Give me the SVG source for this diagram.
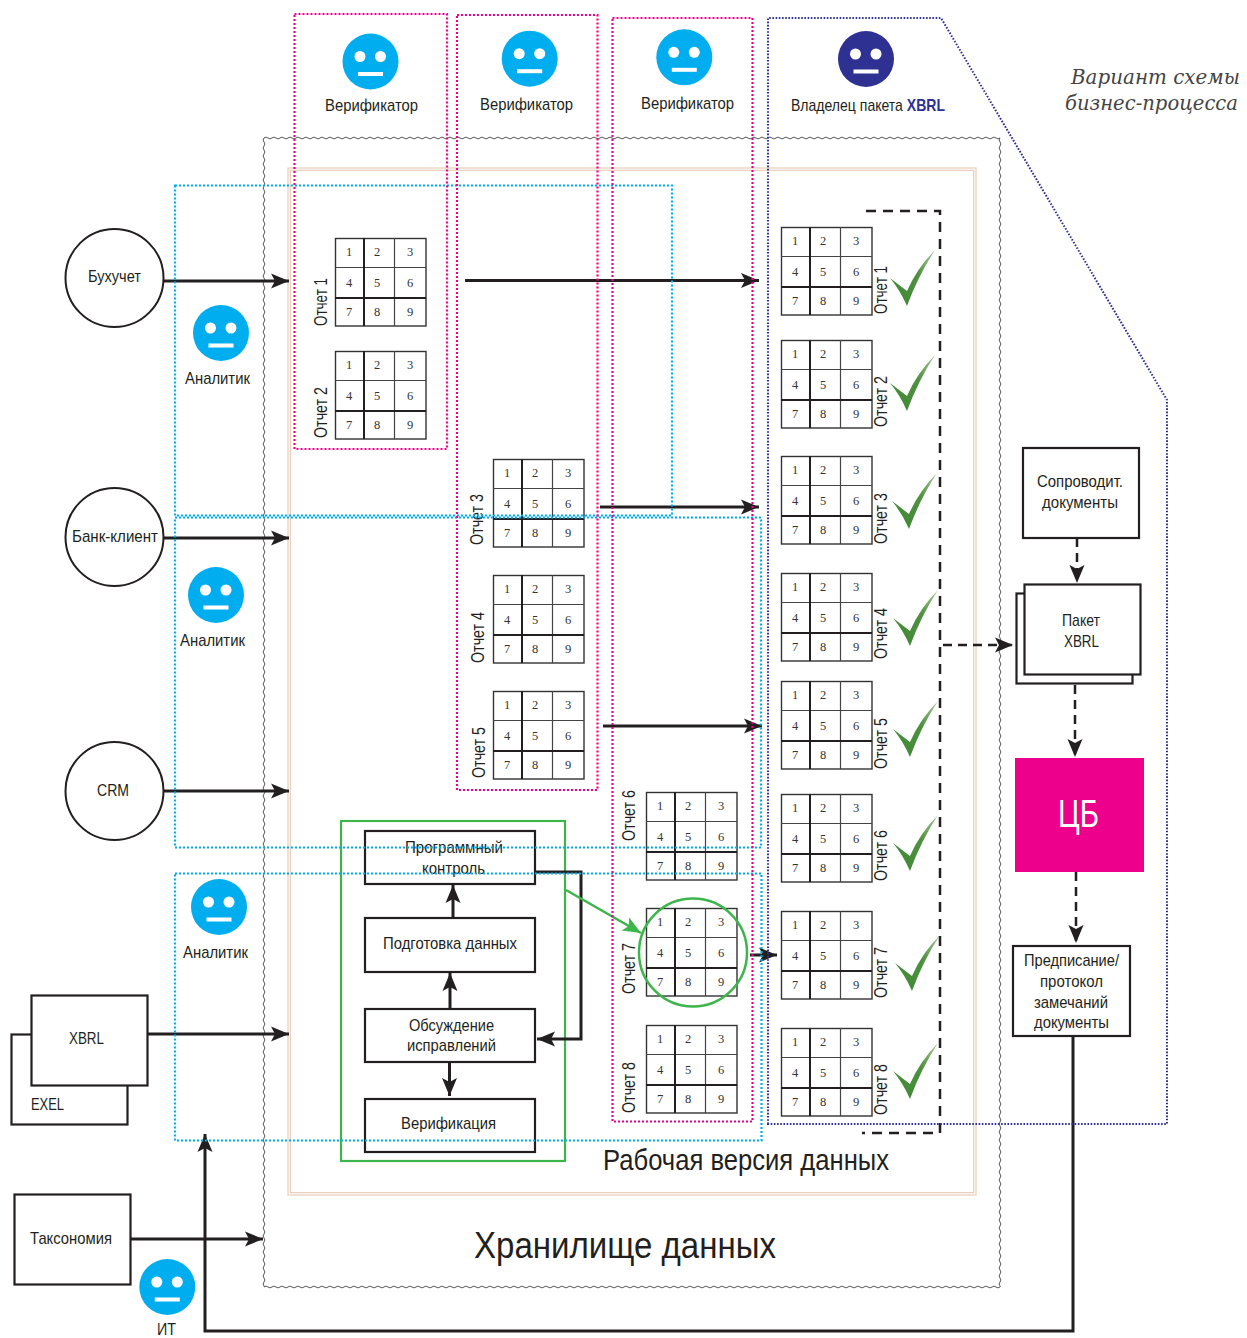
<svg xmlns="http://www.w3.org/2000/svg" width="1247" height="1338" viewBox="0 0 1247 1338">
<style>
text{fill:#231f20}
.t{font-family:"Liberation Sans Narrow","Liberation Sans",Arial,sans-serif;font-size:17px}
.r{font-family:"Liberation Sans Narrow","Liberation Sans",Arial,sans-serif;font-size:19px}
.n text{font-family:"Liberation Serif","Times New Roman",serif;font-size:12.5px;text-anchor:middle;fill:#333}
.box{fill:#fff;stroke:#231f20;stroke-width:2.2}
.ring{fill:#fff;stroke:#231f20;stroke-width:2}
.pink{fill:none;stroke:#ec008c;stroke-width:2.2;stroke-dasharray:2 2}
.cyan{fill:none;stroke:#00aeef;stroke-width:2.2;stroke-dasharray:2 2}
.navy{fill:none;stroke:#2e3192;stroke-width:2;stroke-dasharray:1.6 1.6}
.peach{fill:none;stroke:#e8cdb8;stroke-width:1.2}
.a{fill:none;stroke:#231f20;stroke-width:3;marker-end:url(#arrow)}
.d{fill:none;stroke:#231f20;stroke-width:2.5;stroke-dasharray:9 6;marker-end:url(#arrow)}
.chk{fill:url(#chkfill);filter:url(#soft)}
.face{fill:#00aeef}
.white{fill:#fff}
</style>
<defs>
<linearGradient id="chkfill" x1="0.2" y1="1" x2="1" y2="0"><stop offset="0" stop-color="#3f8a35"/><stop offset="0.55" stop-color="#4f9140"/><stop offset="1" stop-color="#a9c99c"/></linearGradient>
<marker id="arrow" markerUnits="userSpaceOnUse" markerWidth="22" markerHeight="18" refX="18" refY="9" orient="auto"><path d="M0,1.500 L18,9 L0,16.500 L4,9 Z" fill="#231f20"/></marker>
<marker id="arrowg" markerUnits="userSpaceOnUse" markerWidth="22" markerHeight="18" refX="18" refY="9" orient="auto"><path d="M0,1.500 L18,9 L0,16.500 L4,9 Z" fill="#3cb54a"/></marker>
<filter id="soft" x="-10%" y="-10%" width="120%" height="120%"><feGaussianBlur stdDeviation="0.6"/></filter>
<pattern id="waveH" width="8" height="4" patternUnits="userSpaceOnUse"><path d="M0,2 Q2,0.2 4,2 T8,2" fill="none" stroke="#555" stroke-width="1"/></pattern>
<pattern id="waveV" width="4" height="8" patternUnits="userSpaceOnUse"><path d="M2,0 Q0.2,2 2,4 T2,8" fill="none" stroke="#555" stroke-width="1"/></pattern>
<g id="grid">
<rect x="0.500" y="0.500" width="90.500" height="87.500" fill="#fff" stroke="#333" stroke-width="1.400"/>
<path d="M0,29.500H91M59.500,0V88" stroke="#444" stroke-width="1.200" fill="none"/>
<path d="M0,60H91M29,0V88" stroke="#231f20" stroke-width="2" fill="none"/>
</g>
<g id="smile"><circle r="28" class="face"/><circle cx="-10.500" cy="-5" r="5.500" class="white"/><circle cx="10" cy="-5" r="5.500" class="white"/><rect x="-12.500" y="10.500" width="25" height="4" class="white"/></g>
<path id="check" d="M0,28 L17,41 Q27,18 45,0 Q28,26 17,56 Q10,40 0,28 Z"/>
</defs>
<rect width="1247" height="1338" fill="#fff"/>

<g id="storage">
<rect transform="translate(264,136)" width="736" height="4" fill="url(#waveH)"/>
<rect transform="translate(264,1285)" width="736" height="4" fill="url(#waveH)"/>
<rect transform="translate(262,138)" width="4" height="1149" fill="url(#waveV)"/>
<rect transform="translate(998,138)" width="4" height="1149" fill="url(#waveV)"/>
<text class="t" x="474" y="1258" style="font-size:37px" textLength="302" lengthAdjust="spacingAndGlyphs">Хранилище данных</text>
</g>
<g id="working-copy">
<rect class="peach" x="288" y="168" width="688" height="1027"/>
<rect class="peach" x="290.300" y="170.300" width="683.400" height="1022.400"/>
<text class="t" x="603" y="1170" style="font-size:29px" textLength="286" lengthAdjust="spacingAndGlyphs">Рабочая версия данных</text>
</g>

<g id="source-buh"><circle class="ring" cx="114.500" cy="278" r="49"/><text class="t" x="88" y="282" textLength="53" lengthAdjust="spacingAndGlyphs">Бухучет</text></g>
<g id="source-bank"><circle class="ring" cx="114.500" cy="537" r="49"/><text class="t" x="72" y="542" textLength="86" lengthAdjust="spacingAndGlyphs">Банк-клиент</text></g>
<g id="source-crm"><circle class="ring" cx="114.500" cy="791" r="49"/><text class="t" x="97" y="796" textLength="32" lengthAdjust="spacingAndGlyphs">CRM</text></g>
<g id="source-exel"><rect class="box" x="11.500" y="1034.500" width="116" height="90"/><text class="t" x="31" y="1110" textLength="33" lengthAdjust="spacingAndGlyphs">EXEL</text></g>
<g id="source-xbrl"><rect class="box" x="31.500" y="995.500" width="116" height="90"/><text class="t" x="69" y="1044" textLength="35" lengthAdjust="spacingAndGlyphs">XBRL</text></g>
<g id="source-taxonomy"><rect class="box" x="14.500" y="1194.500" width="116" height="90"/><text class="t" x="30" y="1244" textLength="82" lengthAdjust="spacingAndGlyphs">Таксономия</text></g>

<g id="verifier-1"><use href="#smile" x="370.500" y="61.500"/><text class="t" x="325" y="111" textLength="93" lengthAdjust="spacingAndGlyphs">Верификатор</text></g>
<g id="verifier-2"><use href="#smile" x="529.700" y="58.700"/><text class="t" x="480" y="110" textLength="93" lengthAdjust="spacingAndGlyphs">Верификатор</text></g>
<g id="verifier-3"><use href="#smile" x="684.300" y="57.300"/><text class="t" x="641" y="109" textLength="93" lengthAdjust="spacingAndGlyphs">Верификатор</text></g>
<g id="owner"><circle cx="866" cy="59" r="28" fill="#2e3192"/><circle cx="855.500" cy="54" r="5.500" class="white"/><circle cx="876" cy="54" r="5.500" class="white"/><rect x="853.500" y="69.500" width="25" height="4" class="white"/><text class="t" x="791" y="111" textLength="154" lengthAdjust="spacingAndGlyphs">Владелец пакета <tspan style="fill:#2e3192;font-weight:bold">XBRL</tspan></text></g>
<g id="analyst-1"><use href="#smile" x="221" y="333"/><text class="t" x="185" y="384" textLength="65" lengthAdjust="spacingAndGlyphs">Аналитик</text></g>
<g id="analyst-2"><use href="#smile" x="216" y="595"/><text class="t" x="180" y="646" textLength="65" lengthAdjust="spacingAndGlyphs">Аналитик</text></g>
<g id="analyst-3"><use href="#smile" x="219" y="907"/><text class="t" x="183" y="958" textLength="65" lengthAdjust="spacingAndGlyphs">Аналитик</text></g>
<g id="it"><use href="#smile" x="167.300" y="1287"/><text class="t" x="157" y="1335" style="font-size:16px" textLength="19" lengthAdjust="spacingAndGlyphs">ИТ</text></g>

<g id="report-1" class="n" transform="translate(335,238)"><use href="#grid"/><text x="14" y="18">1</text><text x="42" y="18">2</text><text x="75" y="18">3</text><text x="14" y="49">4</text><text x="42" y="49">5</text><text x="75" y="49">6</text><text x="14" y="78">7</text><text x="42" y="78">8</text><text x="75" y="78">9</text></g>
<g id="report-2" class="n" transform="translate(335,351)"><use href="#grid"/><text x="14" y="18">1</text><text x="42" y="18">2</text><text x="75" y="18">3</text><text x="14" y="49">4</text><text x="42" y="49">5</text><text x="75" y="49">6</text><text x="14" y="78">7</text><text x="42" y="78">8</text><text x="75" y="78">9</text></g>
<g id="report-3" class="n" transform="translate(493,459)"><use href="#grid"/><text x="14" y="18">1</text><text x="42" y="18">2</text><text x="75" y="18">3</text><text x="14" y="49">4</text><text x="42" y="49">5</text><text x="75" y="49">6</text><text x="14" y="78">7</text><text x="42" y="78">8</text><text x="75" y="78">9</text></g>
<g id="report-4" class="n" transform="translate(493,575)"><use href="#grid"/><text x="14" y="18">1</text><text x="42" y="18">2</text><text x="75" y="18">3</text><text x="14" y="49">4</text><text x="42" y="49">5</text><text x="75" y="49">6</text><text x="14" y="78">7</text><text x="42" y="78">8</text><text x="75" y="78">9</text></g>
<g id="report-5" class="n" transform="translate(493,691)"><use href="#grid"/><text x="14" y="18">1</text><text x="42" y="18">2</text><text x="75" y="18">3</text><text x="14" y="49">4</text><text x="42" y="49">5</text><text x="75" y="49">6</text><text x="14" y="78">7</text><text x="42" y="78">8</text><text x="75" y="78">9</text></g>
<g id="report-6" class="n" transform="translate(646,792)"><use href="#grid"/><text x="14" y="18">1</text><text x="42" y="18">2</text><text x="75" y="18">3</text><text x="14" y="49">4</text><text x="42" y="49">5</text><text x="75" y="49">6</text><text x="14" y="78">7</text><text x="42" y="78">8</text><text x="75" y="78">9</text></g>
<g id="report-7" class="n" transform="translate(646,908)"><use href="#grid"/><text x="14" y="18">1</text><text x="42" y="18">2</text><text x="75" y="18">3</text><text x="14" y="49">4</text><text x="42" y="49">5</text><text x="75" y="49">6</text><text x="14" y="78">7</text><text x="42" y="78">8</text><text x="75" y="78">9</text></g>
<g id="report-8" class="n" transform="translate(646,1025)"><use href="#grid"/><text x="14" y="18">1</text><text x="42" y="18">2</text><text x="75" y="18">3</text><text x="14" y="49">4</text><text x="42" y="49">5</text><text x="75" y="49">6</text><text x="14" y="78">7</text><text x="42" y="78">8</text><text x="75" y="78">9</text></g>

<g id="final-1" class="n" transform="translate(781,227)"><use href="#grid"/><text x="14" y="18">1</text><text x="42" y="18">2</text><text x="75" y="18">3</text><text x="14" y="49">4</text><text x="42" y="49">5</text><text x="75" y="49">6</text><text x="14" y="78">7</text><text x="42" y="78">8</text><text x="75" y="78">9</text></g>
<g id="final-2" class="n" transform="translate(781,340)"><use href="#grid"/><text x="14" y="18">1</text><text x="42" y="18">2</text><text x="75" y="18">3</text><text x="14" y="49">4</text><text x="42" y="49">5</text><text x="75" y="49">6</text><text x="14" y="78">7</text><text x="42" y="78">8</text><text x="75" y="78">9</text></g>
<g id="final-3" class="n" transform="translate(781,456)"><use href="#grid"/><text x="14" y="18">1</text><text x="42" y="18">2</text><text x="75" y="18">3</text><text x="14" y="49">4</text><text x="42" y="49">5</text><text x="75" y="49">6</text><text x="14" y="78">7</text><text x="42" y="78">8</text><text x="75" y="78">9</text></g>
<g id="final-4" class="n" transform="translate(781,573)"><use href="#grid"/><text x="14" y="18">1</text><text x="42" y="18">2</text><text x="75" y="18">3</text><text x="14" y="49">4</text><text x="42" y="49">5</text><text x="75" y="49">6</text><text x="14" y="78">7</text><text x="42" y="78">8</text><text x="75" y="78">9</text></g>
<g id="final-5" class="n" transform="translate(781,681)"><use href="#grid"/><text x="14" y="18">1</text><text x="42" y="18">2</text><text x="75" y="18">3</text><text x="14" y="49">4</text><text x="42" y="49">5</text><text x="75" y="49">6</text><text x="14" y="78">7</text><text x="42" y="78">8</text><text x="75" y="78">9</text></g>
<g id="final-6" class="n" transform="translate(781,794)"><use href="#grid"/><text x="14" y="18">1</text><text x="42" y="18">2</text><text x="75" y="18">3</text><text x="14" y="49">4</text><text x="42" y="49">5</text><text x="75" y="49">6</text><text x="14" y="78">7</text><text x="42" y="78">8</text><text x="75" y="78">9</text></g>
<g id="final-7" class="n" transform="translate(781,911)"><use href="#grid"/><text x="14" y="18">1</text><text x="42" y="18">2</text><text x="75" y="18">3</text><text x="14" y="49">4</text><text x="42" y="49">5</text><text x="75" y="49">6</text><text x="14" y="78">7</text><text x="42" y="78">8</text><text x="75" y="78">9</text></g>
<g id="final-8" class="n" transform="translate(781,1028)"><use href="#grid"/><text x="14" y="18">1</text><text x="42" y="18">2</text><text x="75" y="18">3</text><text x="14" y="49">4</text><text x="42" y="49">5</text><text x="75" y="49">6</text><text x="14" y="78">7</text><text x="42" y="78">8</text><text x="75" y="78">9</text></g>

<g id="report-labels">
<text class="r" transform="translate(326.500,326) rotate(-90)" textLength="48" lengthAdjust="spacingAndGlyphs">Отчет 1</text>
<text class="r" transform="translate(326.500,438) rotate(-90)" textLength="51" lengthAdjust="spacingAndGlyphs">Отчет 2</text>
<text class="r" transform="translate(482.500,545) rotate(-90)" textLength="51" lengthAdjust="spacingAndGlyphs">Отчет 3</text>
<text class="r" transform="translate(483.500,663) rotate(-90)" textLength="51" lengthAdjust="spacingAndGlyphs">Отчет 4</text>
<text class="r" transform="translate(484.500,778) rotate(-90)" textLength="51" lengthAdjust="spacingAndGlyphs">Отчет 5</text>
<text class="r" transform="translate(635,841) rotate(-90)" textLength="51" lengthAdjust="spacingAndGlyphs">Отчет 6</text>
<text class="r" transform="translate(635,994) rotate(-90)" textLength="51" lengthAdjust="spacingAndGlyphs">Отчет 7</text>
<text class="r" transform="translate(635,1113) rotate(-90)" textLength="51" lengthAdjust="spacingAndGlyphs">Отчет 8</text>
<text class="r" transform="translate(886.500,314) rotate(-90)" textLength="48" lengthAdjust="spacingAndGlyphs">Отчет 1</text>
<text class="r" transform="translate(886.500,427) rotate(-90)" textLength="51" lengthAdjust="spacingAndGlyphs">Отчет 2</text>
<text class="r" transform="translate(886.500,544) rotate(-90)" textLength="51" lengthAdjust="spacingAndGlyphs">Отчет 3</text>
<text class="r" transform="translate(886.500,659) rotate(-90)" textLength="51" lengthAdjust="spacingAndGlyphs">Отчет 4</text>
<text class="r" transform="translate(886.500,769) rotate(-90)" textLength="51" lengthAdjust="spacingAndGlyphs">Отчет 5</text>
<text class="r" transform="translate(886.500,881) rotate(-90)" textLength="51" lengthAdjust="spacingAndGlyphs">Отчет 6</text>
<text class="r" transform="translate(886.500,998) rotate(-90)" textLength="51" lengthAdjust="spacingAndGlyphs">Отчет 7</text>
<text class="r" transform="translate(886.500,1115) rotate(-90)" textLength="51" lengthAdjust="spacingAndGlyphs">Отчет 8</text>
</g>
<g id="checks" class="chk">
<use href="#check" x="890" y="250"/><use href="#check" x="890" y="355"/><use href="#check" x="892" y="473"/><use href="#check" x="893" y="590"/><use href="#check" x="893" y="701"/><use href="#check" x="893" y="815"/><use href="#check" x="895" y="935"/><use href="#check" x="893" y="1043"/>
</g>

<g id="control-group"><rect x="341" y="821" width="224" height="340" fill="none" stroke="#3cb54a" stroke-width="2.200"/></g>
<g id="step-control"><rect class="box" x="365" y="831" width="170" height="53"/><text class="t" x="405" y="853" textLength="98" lengthAdjust="spacingAndGlyphs">Программный</text><text class="t" x="422" y="874" textLength="63" lengthAdjust="spacingAndGlyphs">контроль</text></g>
<g id="step-prepare"><rect class="box" x="365" y="918" width="170" height="54"/><text class="t" x="383" y="949" textLength="134" lengthAdjust="spacingAndGlyphs">Подготовка данных</text></g>
<g id="step-discuss"><rect class="box" x="365" y="1009" width="170" height="53"/><text class="t" x="409" y="1031" textLength="85" lengthAdjust="spacingAndGlyphs">Обсуждение</text><text class="t" x="407" y="1051" textLength="89" lengthAdjust="spacingAndGlyphs">исправлений</text></g>
<g id="step-verify"><rect class="box" x="365" y="1099" width="170" height="53"/><text class="t" x="401" y="1129" textLength="95" lengthAdjust="spacingAndGlyphs">Верификация</text></g>

<g id="doc-accompanying"><rect class="box" x="1023" y="448" width="116" height="90"/><text class="t" x="1037" y="487" textLength="86" lengthAdjust="spacingAndGlyphs">Сопроводит.</text><text class="t" x="1042" y="508" textLength="76" lengthAdjust="spacingAndGlyphs">документы</text></g>
<g id="package-xbrl"><rect class="box" x="1016.500" y="593.500" width="116" height="90"/><rect class="box" x="1024.500" y="584.500" width="116" height="90"/><text class="t" x="1062" y="626" textLength="38" lengthAdjust="spacingAndGlyphs">Пакет</text><text class="t" x="1064" y="647" textLength="35" lengthAdjust="spacingAndGlyphs">XBRL</text></g>
<g id="cb"><rect x="1015" y="758" width="129" height="114" fill="#ec008c"/><text class="t" x="1058" y="827" style="font-size:38px;fill:#fff" textLength="41" lengthAdjust="spacingAndGlyphs">ЦБ</text></g>
<g id="prescription"><rect class="box" x="1013" y="946" width="117" height="90"/><text class="t" x="1024" y="966" textLength="95" lengthAdjust="spacingAndGlyphs">Предписание/</text><text class="t" x="1040" y="987" textLength="63" lengthAdjust="spacingAndGlyphs">протокол</text><text class="t" x="1034" y="1008" textLength="74" lengthAdjust="spacingAndGlyphs">замечаний</text><text class="t" x="1034" y="1028" textLength="75" lengthAdjust="spacingAndGlyphs">документы</text></g>
<g id="caption"><text x="1071" y="84" textLength="169" lengthAdjust="spacingAndGlyphs" style="font-family:'DejaVu Serif',serif;font-style:italic;font-size:20px;fill:#444">Вариант схемы</text><text x="1065" y="110" textLength="173" lengthAdjust="spacingAndGlyphs" style="font-family:'DejaVu Serif',serif;font-style:italic;font-size:20px;fill:#444">бизнес-процесса</text></g>

<g id="connectors">
<path class="a" d="M163,281H289"/>
<path class="a" d="M163,538H289"/>
<path class="a" d="M163,791H289"/>
<path class="a" d="M147,1034H289"/>
<path class="a" d="M131,1239H263"/>
<path class="a" d="M465,280.500H759"/>
<path class="a" d="M600,507H759"/>
<path class="a" d="M603,726H762"/>
<path class="a" d="M750,955H777"/>
<path class="a" d="M453,918V885"/>
<path class="a" d="M450,1009V973"/>
<path class="a" d="M449.500,1062V1096"/>
<path class="a" d="M535,872H581V1039H537"/>
<path d="M566,890L641,933" fill="none" stroke="#3cb54a" stroke-width="2.500" marker-end="url(#arrowg)"/>
<circle cx="693" cy="952.500" r="54" fill="none" stroke="#3cb54a" stroke-width="2.500"/>
<path class="a" d="M1073,1036V1331H205V1134"/>
<path d="M866,211H940V1133H862" fill="none" stroke="#231f20" stroke-width="2.500" stroke-dasharray="10 7"/>
<path class="d" d="M943,645H1013"/>
<path class="d" d="M1077,538V583"/>
<path class="d" d="M1075,685V757"/>
<path class="d" d="M1076,872V943"/>
</g>

<g id="frames">
<rect class="cyan" x="175" y="185.500" width="497" height="330"/>
<rect class="cyan" x="175" y="517.500" width="586" height="330"/>
<rect class="cyan" x="175" y="873.500" width="586.500" height="267"/>
<rect class="pink" x="294.500" y="14" width="152.500" height="435"/>
<rect class="pink" x="457" y="15" width="140.500" height="775"/>
<rect class="pink" x="612.500" y="18" width="140" height="1103.500"/>
<path class="navy" d="M768,1124V18H941L1167,400V1124Z"/>
</g>
</svg>
